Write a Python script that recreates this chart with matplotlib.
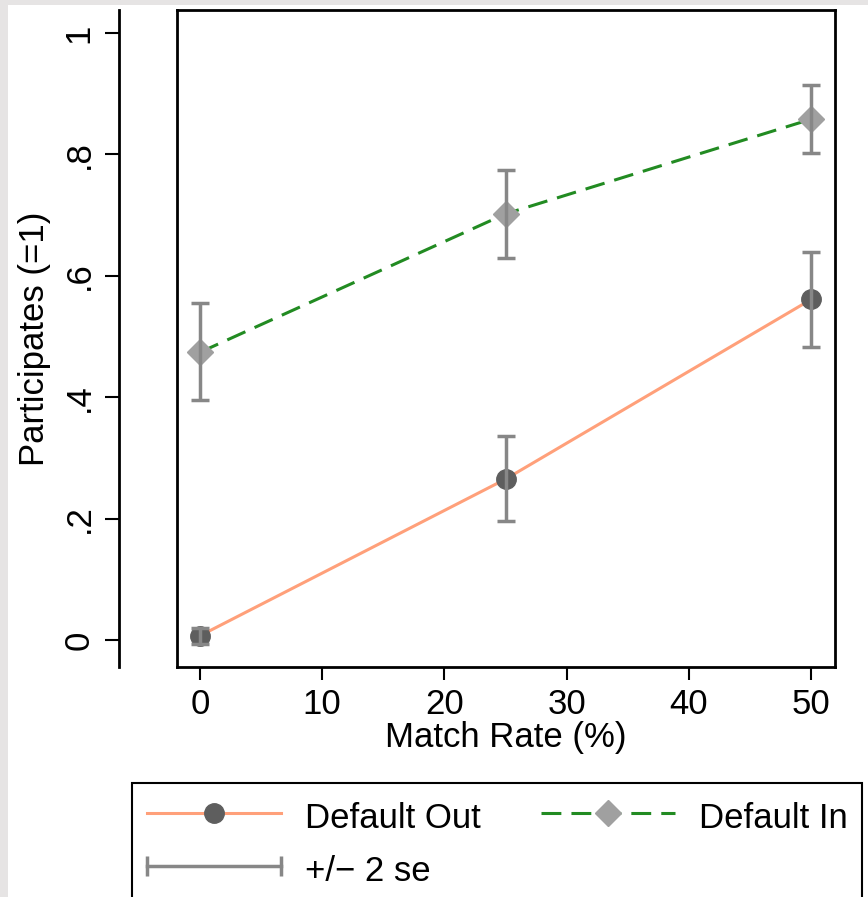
import numpy as np
import matplotlib
matplotlib.use("Agg")
import matplotlib.pyplot as plt
from matplotlib.lines import Line2D
from matplotlib.patches import Rectangle
from matplotlib.legend_handler import HandlerLine2D

plt.rcParams['font.family'] = ['Liberation Sans', 'DejaVu Sans']

# match rates on the x axis
match_rate = [0, 25, 50]

# participation rates, default out
out_mean = [0.007, 0.265, 0.561]
out_low = [-0.007, 0.196, 0.483]
out_high = [0.020, 0.336, 0.639]

# participation rates, default in
in_mean = [0.474, 0.702, 0.858]
in_low = [0.395, 0.629, 0.802]
in_high = [0.555, 0.774, 0.914]

x_ticks = [0, 10, 20, 30, 40, 50]
y_ticks = [0, 0.2, 0.4, 0.6, 0.8, 1.0]
y_tick_labels = ["0", ".2", ".4", ".6", ".8", "1"]

orange = '#FFA07A'
green = '#228B22'
bar_gray = '#878787'
circle_gray = '#5E5E5E'
diamond_gray = '#A0A0A0'

W, H = 868, 897
fig = plt.figure(figsize=(W / 100, H / 100), dpi=100)
fig.patch.set_facecolor('#E6E4E4')
# white page area (gray strip left and top like the original slide)
fig.patches.append(Rectangle((8 / W, 0), 1, 1 - 5 / H, transform=fig.transFigure,
                             facecolor='white', edgecolor='none', zorder=-5))

pos = [177 / W, 1 - 667 / H, (835 - 177) / W, (667 - 10) / H]

# box around the plot region
box = fig.add_axes(pos)
box.set_xticks([])
box.set_yticks([])
box.patch.set_facecolor('white')
for s in box.spines.values():
    s.set_linewidth(2)

ax = fig.add_axes(pos)
ax.patch.set_alpha(0)


def errs(mean, low, high):
    mean = np.array(mean)
    return [mean - np.array(low), np.array(high) - mean]


# lines
ax.plot(match_rate, out_mean, color=orange, lw=2.2, zorder=2)
ax.plot(match_rate, in_mean, color=green, lw=2.2, dashes=(6.5, 3.3), zorder=2)
# markers
ax.plot(match_rate, out_mean, 'o', ms=14, color=circle_gray, zorder=3)
ax.plot(match_rate, in_mean, 'D', ms=13, color=diamond_gray, zorder=3)
# +/- 2 se bars on top of the markers
ax.errorbar(match_rate, out_mean, yerr=errs(out_mean, out_low, out_high), fmt='none',
            ecolor=bar_gray, elinewidth=2.5, capsize=6.8, capthick=2.5, zorder=4)
ax.errorbar(match_rate, in_mean, yerr=errs(in_mean, in_low, in_high), fmt='none',
            ecolor=bar_gray, elinewidth=2.5, capsize=6.8, capthick=2.5, zorder=4)

ax.set_xlim(-1.882, 51.96)
ax.set_ylim(-0.0445, 1.0379)

ax.set_xticks(x_ticks)
ax.set_yticks(y_ticks)
ax.set_yticklabels(y_tick_labels)

for side in ['top', 'right', 'bottom']:
    ax.spines[side].set_visible(False)
# y axis sits apart from the plot box (58 px to the left)
ax.spines['left'].set_position(('outward', 58 * 0.72))
ax.spines['left'].set_linewidth(2)

ax.tick_params(axis='x', length=9.5, width=1.5, pad=5.5, labelsize=25, direction='out')
ax.tick_params(axis='y', length=10, width=1.5, pad=7, labelsize=25, direction='out',
               labelrotation=90)
plt.setp(ax.get_yticklabels(), va='center')

ax.set_xlabel("Match Rate (%)", fontsize=25)
ax.set_ylabel("Participates (=1)", fontsize=25)
ax.xaxis.set_label_coords(0.5, -0.082)
ax.yaxis.set_label_coords(-0.191, 0.5)

# legend
h_out = Line2D([], [], color=orange, lw=2.2, marker='o', ms=14,
               mfc=circle_gray, mec=circle_gray)
h_in = Line2D([], [], color=green, lw=2.2, dashes=(6.5, 3.3), marker='D', ms=13,
              mfc=diamond_gray, mec=diamond_gray)
h_se = Line2D([], [], color=bar_gray, lw=2.5, marker='|', ms=15, mew=2.5)

leg = fig.legend([h_out, h_se, h_in], ["Default Out", "+/\u2212 2 se", "Default In"],
                 ncol=2, loc='upper left', bbox_to_anchor=(131.7 / W, 1 - 783 / H),
                 borderaxespad=0, fontsize=25, handlelength=3.86, handletextpad=0.69,
                 columnspacing=1.74, borderpad=0.43, labelspacing=0.43, handleheight=1.3,
                 fancybox=False, framealpha=1, edgecolor='black',
                 handler_map={h_se: HandlerLine2D(numpoints=2, marker_pad=0)})
leg.get_frame().set_linewidth(1.5)

fig.savefig("out.png", dpi=100, facecolor=fig.get_facecolor())
